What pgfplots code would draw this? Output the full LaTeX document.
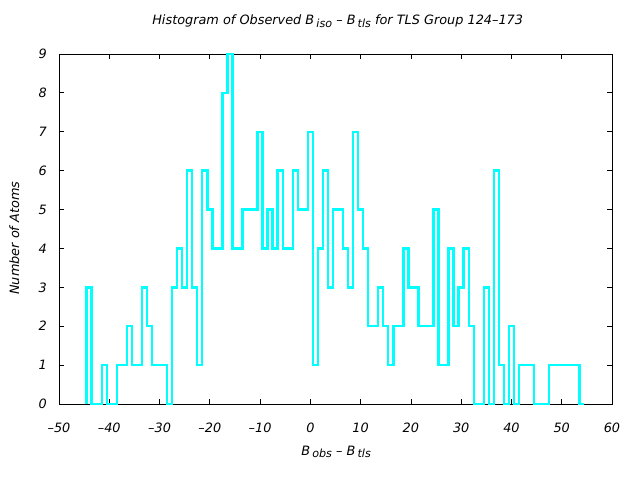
\documentclass[border=0pt]{standalone}
\usepackage{pgfplots}
\pgfplotsset{compat=1.18}
\usepackage{pgfplotstable}
\usepackage{fontspec}
\setmainfont{DejaVu Sans}
\definecolor{histcyan}{RGB}{0,255,255}
\newcommand\sub[1]{\,\raisebox{-0.35ex}{\fontsize{11.2}{13}\selectfont #1}}
\newcommand\lblfont{\fontsize{12.9}{15}\itshape}

% bin centre, number of atoms (bin width 1)
\pgfplotstableread{
x   n
-44 0
-44 3
-43 0
-42 0
-41 1
-40 0
-39 0
-38 1
-37 1
-36 2
-35 1
-34 1
-33 3
-32 2
-31 1
-30 1
-29 1
-28 0
-27 3
-26 4
-25 3
-24 6
-23 3
-22 1
-21 6
-20 5
-19 4
-18 4
-17 8
-16 9
-15 4
-14 4
-13 5
-12 5
-11 5
-10 7
-9  4
-8  5
-7  4
-6  6
-5  4
-4  4
-3  6
-2  5
-1  5
0   7
1   1
2   4
3   6
4   3
5   5
6   5
7   4
8   3
9   7
10  5
11  4
12  2
13  2
14  3
15  2
16  1
17  2
18  2
19  4
20  3
21  3
22  2
23  2
24  2
25  5
26  1
27  1
28  4
29  2
30  3
31  4
32  2
33  0
34  0
35  3
36  0
37  6
38  1
39  0
40  2
41  0
42  1
43  1
44  1
45  0
46  0
47  0
48  1
49  1
50  1
51  1
52  1
53  1
54  0
55  0
}\histdata

\begin{document}
\begin{tikzpicture}
\useasboundingbox (0,0) rectangle (640bp,480bp);
\begin{axis}[
  at={(59bp,76bp)}, anchor=south west,
  scale only axis,
  width=553bp, height=350bp,
  xmin=-50, xmax=60, ymin=0, ymax=9,
  xtick={-50,-40,...,60},
  xticklabels={\textendash50,\textendash40,\textendash30,\textendash20,\textendash10,0,10,20,30,40,50,60},
  ytick={0,1,...,9},
  tick align=inside,
  major tick length=5bp,
  tick style={black, line width=0.8bp},
  axis line style={black, line width=0.8bp},
  /pgf/number format/assume math mode=true,
  every tick label/.append style={font=\lblfont, inner sep=0pt},
  xticklabel style={anchor=center, yshift=-24bp},
  yticklabel style={anchor=east, xshift=-12bp},
  title={Histogram of Observed B\sub{iso} \textendash{} B\sub{tls} for TLS Group 124\textendash173},
  title style={font=\lblfont, at={(axis description cs:0.504,1.077)}, anchor=center, inner sep=0pt},
  xlabel={B\sub{obs} \textendash{} B\sub{tls}},
  xlabel style={font=\lblfont, at={(axis description cs:0.501,-0.137)}, anchor=center, inner sep=0pt},
  ylabel={Number of Atoms},
  ylabel style={font=\lblfont, at={(axis description cs:-0.081,0.474)}, anchor=center, inner sep=0pt, rotate=0},
  clip=false,
]
\addplot[const plot mark left, histcyan, line width=2.4bp, line join=miter]
  table[x expr=\thisrow{x}-0.5, y=n] {\histdata};
\end{axis}
\end{tikzpicture}
\end{document}
